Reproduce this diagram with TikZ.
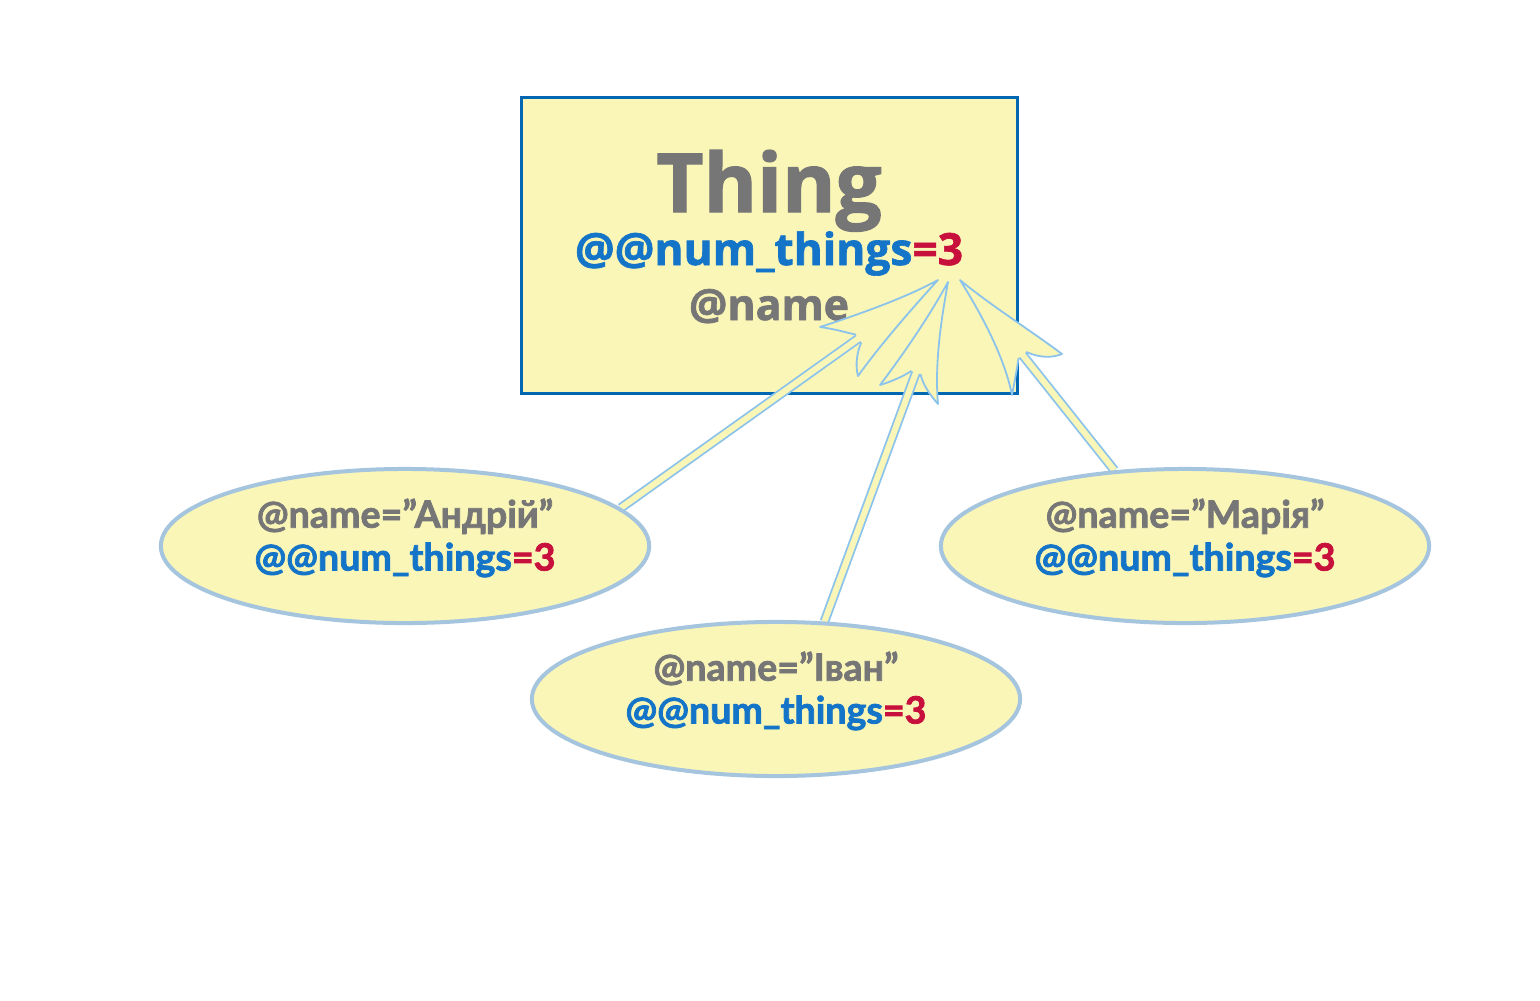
\documentclass[tikz,border=0pt]{standalone}
\usepackage{fontspec}
\setmainfont{Lato}[BoldFeatures={FakeBold=2}]
\newfontfamily\boxfont{Open Sans}[BoldFeatures={FakeBold=1.5}]
\usetikzlibrary{shapes.geometric}
\definecolor{yfill}{RGB}{250,246,184}
\definecolor{boxline}{RGB}{0,104,178}
\definecolor{ellline}{RGB}{165,196,222}
\definecolor{arrline}{RGB}{140,195,235}
\definecolor{greytxt}{RGB}{118,118,118}
\definecolor{bluetxt}{RGB}{20,116,200}
\definecolor{redtxt}{RGB}{200,16,60}
\pgfdeclarelayer{back}
\pgfdeclarelayer{mid}
\pgfsetlayers{back,mid,main}
\newcommand{\numthings}{\textcolor{bluetxt}{@@num\_things}\textcolor{redtxt}{=3}}
\newcommand{\lift}[1]{\rule[-#1]{0pt}{0pt}}
\tikzset{
  classbox/.style={draw=boxline, fill=yfill, line width=0.03cm, minimum width=4.96cm, minimum height=2.96cm, inner sep=0pt},
  boxtxt/.style={anchor=base, inner sep=0pt, font=\boxfont\bfseries},
  objell/.style={ellipse, draw=ellline, fill=yfill, line width=0.04cm, minimum width=4.88cm, minimum height=1.54cm, inner sep=0pt, align=center, font=\bfseries\fontsize{10.7}{12.2}\selectfont, text=greytxt},
  shaft/.style={draw=arrline, line width=0.018cm, double=yfill, double distance=0.06cm},
  headshape/.style={draw=arrline, fill=yfill, line width=0.018cm, line join=round}
}
\begin{document}
\begin{tikzpicture}[x=0.01cm, y=-0.01cm]
\useasboundingbox (0,0) rectangle (1540,1000);
\begin{pgfonlayer}{back}
\fill[white] (0,0) rectangle (1540,1000);
\node[classbox] (thing) at (769.5,245.5) {};
\node[boxtxt, text=greytxt, font=\boxfont\bfseries\fontsize{23.2}{28}\selectfont] (title) at (769,212) {Thing};
\node[boxtxt, font=\boxfont\bfseries\fontsize{12.6}{15}\selectfont] (cvar) at (769,265) {\numthings};
\node[boxtxt, text=greytxt, font=\boxfont\bfseries\fontsize{12.2}{15}\selectfont] (ivar) at (769,320) {@name};
\end{pgfonlayer}
\node[objell] (andriy) at (405,546) {@name=”Андрій”\\\numthings\lift{6.5pt}};
\node[objell] (ivan) at (776,699) {@name=”Іван”\\\numthings\lift{6.5pt}};
\node[objell] (mariya) at (1185,546) {@name=”Марія”\\\numthings\lift{6.5pt}};
\coordinate (endL) at (860.1,337.3);
\coordinate (endM) at (916.7,370.6);
\coordinate (endR) at (1021.3,353.4);
\begin{pgfonlayer}{mid}
\draw[shaft] (andriy.10) -- (endL);
\draw[shaft] (ivan.58) -- (endM);
\draw[shaft] (mariya.133) -- (endR);
\draw[headshape] (855.7,334.6) .. controls (848,333) and (835,329) .. (820,327)
  .. controls (860,314) and (905,298) .. (938,280)
  .. controls (915,305) and (880,345) .. (858,376)
  .. controls (855,365) and (857,352) .. (861.3,342.4);
\draw[headshape] (911.5,370.9) .. controls (902,377) and (890,382) .. (880,385)
  .. controls (905,352) and (930,315) .. (948,282)
  .. controls (943,310) and (934,360) .. (938,404)
  .. controls (930,395) and (923,385) .. (920.5,374.2);
\draw[headshape] (1026.1,352) .. controls (1040,358) and (1052,358) .. (1062,354)
  .. controls (1030,330) and (990,305) .. (960,280)
  .. controls (985,320) and (1005,360) .. (1012,395)
  .. controls (1015,380) and (1017,368) .. (1018.6,358);
\end{pgfonlayer}
\end{tikzpicture}
\end{document}
